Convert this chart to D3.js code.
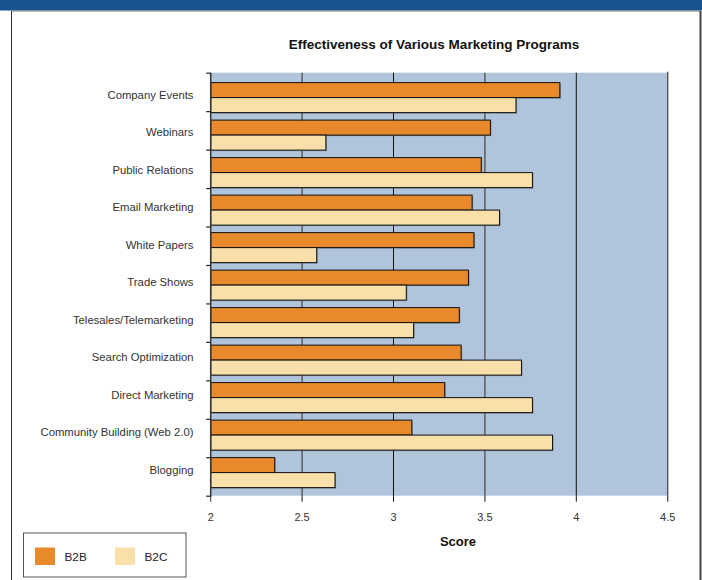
<!DOCTYPE html>
<html>
<head>
<meta charset="utf-8">
<script src="https://cdn.jsdelivr.net/npm/d3@7/dist/d3.min.js"></script>
<style>
  html, body { margin: 0; padding: 0; background: #fff; }
  svg { display: block; }
  text { font-family: "Liberation Sans", Arial, Helvetica, sans-serif; }
</style>
</head>
<body>
<svg id="chart" width="702" height="580"></svg>
<script>
// Marketing programs, top to bottom
const categories = [
  "Company Events", "Webinars", "Public Relations", "Email Marketing",
  "White Papers", "Trade Shows", "Telesales/Telemarketing",
  "Search Optimization", "Direct Marketing",
  "Community Building (Web 2.0)", "Blogging"
];
// Average effectiveness score per program
const b2bValues = [3.91, 3.53, 3.48, 3.43, 3.44, 3.41, 3.36, 3.37, 3.28, 3.10, 2.35];
const b2cValues = [3.67, 2.63, 3.76, 3.58, 2.58, 3.07, 3.11, 3.70, 3.76, 3.87, 2.68];
const seriesNames = ["B2B", "B2C"];
const xTicks = [2, 2.5, 3, 3.5, 4, 4.5];
const xTickLabels = ["2", "2.5", "3", "3.5", "4", "4.5"];

const colors = { B2B: "#e8892c", B2C: "#f9dfa9" };

const svg = d3.select("#chart");

// page header strip and panel frame
svg.append("rect").attr("x", 0).attr("y", 0).attr("width", 702).attr("height", 10.5).attr("fill", "#17548f");
svg.append("line").attr("x1", 11).attr("x2", 701).attr("y1", 11).attr("y2", 11).attr("stroke", "#777").attr("stroke-width", 1);
svg.append("line").attr("x1", 11.5).attr("x2", 11.5).attr("y1", 11).attr("y2", 580).attr("stroke", "#333").attr("stroke-width", 1);
svg.append("line").attr("x1", 700.5).attr("x2", 700.5).attr("y1", 11).attr("y2", 580).attr("stroke", "#444").attr("stroke-width", 2);

const plot = { left: 210.7, right: 667.7, top: 72.7, bottom: 495.7 };

const x = d3.scaleLinear().domain([2, 4.5]).range([plot.left, plot.right]);
const y = d3.scaleBand().domain(categories)
  .range([plot.top, plot.bottom])
  .paddingInner(0.2).paddingOuter(0.24).align(0.55);
const ySub = d3.scaleBand().domain(seriesNames).range([0, y.bandwidth()]);

// title
svg.append("text")
  .attr("x", 434).attr("y", 48.5)
  .attr("text-anchor", "middle")
  .attr("font-size", 13.5).attr("font-weight", "bold").attr("fill", "#111")
  .text("Effectiveness of Various Marketing Programs");

// plot background
svg.append("rect")
  .attr("x", plot.left).attr("y", plot.top)
  .attr("width", plot.right - plot.left).attr("height", plot.bottom - plot.top)
  .attr("fill", "#b0c5dc");

// vertical grid lines, extending below the plot as ticks
const grid = svg.append("g");
xTicks.slice(1).forEach((t, i) => {
  const odd = i % 2 === 0; // 2.5, 3.5, 4.5
  grid.append("line")
    .attr("x1", x(t)).attr("x2", x(t))
    .attr("y1", plot.top - (t === 4.5 ? 1 : 0)).attr("y2", plot.bottom + 6)
    .attr("stroke", odd ? "#555" : "#111")
    .attr("stroke-width", odd ? 1.4 : 1);
});
svg.append("line")
  .attr("x1", x(2)).attr("x2", x(2))
  .attr("y1", plot.bottom).attr("y2", plot.bottom + 6)
  .attr("stroke", "#333");

// x tick labels
svg.append("g").selectAll("text")
  .data(xTicks)
  .join("text")
  .attr("x", d => x(d)).attr("y", 521)
  .attr("text-anchor", "middle")
  .attr("font-size", 11).attr("fill", "#333")
  .text((d, i) => xTickLabels[i]);

// x axis title
svg.append("text")
  .attr("x", 458).attr("y", 546)
  .attr("text-anchor", "middle")
  .attr("font-size", 13).attr("font-weight", "bold").attr("fill", "#111")
  .text("Score");

// bars
const rows = categories.map((c, i) => ({ cat: c, B2B: b2bValues[i], B2C: b2cValues[i] }));
const groups = svg.append("g").selectAll("g")
  .data(rows)
  .join("g")
  .attr("transform", d => `translate(0,${y(d.cat)})`);

seriesNames.forEach(s => {
  // soft shadow
  groups.append("rect")
    .attr("x", x(2) + 1)
    .attr("y", ySub(s) + 1)
    .attr("width", d => x(d[s]) - x(2))
    .attr("height", ySub.bandwidth())
    .attr("fill", "#555").attr("opacity", 0.55);
  groups.append("rect")
    .attr("x", x(2))
    .attr("y", ySub(s))
    .attr("width", d => x(d[s]) - x(2))
    .attr("height", ySub.bandwidth())
    .attr("fill", colors[s])
    .attr("stroke", "#111").attr("stroke-width", 1);
});

// category axis: line, boundary ticks, labels
svg.append("line")
  .attr("x1", plot.left).attr("x2", plot.left)
  .attr("y1", plot.top).attr("y2", plot.bottom + 1)
  .attr("stroke", "#333").attr("stroke-width", 1.5);
const boundaries = d3.range(categories.length + 1);
const yb = d3.scaleLinear().domain([0, categories.length]).range([plot.top + 0.5, plot.bottom + 0.5]);
svg.append("g").selectAll("line")
  .data(boundaries)
  .join("line")
  .attr("x1", plot.left - 4.5).attr("x2", plot.left)
  .attr("y1", d => yb(d)).attr("y2", d => yb(d))
  .attr("stroke", "#222").attr("stroke-width", 1.2);

svg.append("g").selectAll("text")
  .data(categories)
  .join("text")
  .attr("x", 193.5)
  .attr("y", d => y(d) + y.bandwidth() / 2 - 2)
  .attr("text-anchor", "end")
  .attr("dominant-baseline", "middle")
  .attr("font-size", 11.3).attr("fill", "#333")
  .text(d => d);

// legend
const legend = svg.append("g");
legend.append("rect")
  .attr("x", 23.5).attr("y", 533).attr("width", 162.5).attr("height", 44)
  .attr("fill", "#fff").attr("stroke", "#555").attr("stroke-width", 1);
seriesNames.forEach((s, i) => {
  const lx = 35 + i * 80;
  legend.append("rect")
    .attr("x", lx).attr("y", 547.5).attr("width", 20).attr("height", 17.5)
    .attr("fill", colors[s]);
  legend.append("text")
    .attr("x", lx + 29.5).attr("y", 561)
    .attr("font-size", 11.8).attr("fill", "#222")
    .text(s);
});
</script>
</body>
</html>
